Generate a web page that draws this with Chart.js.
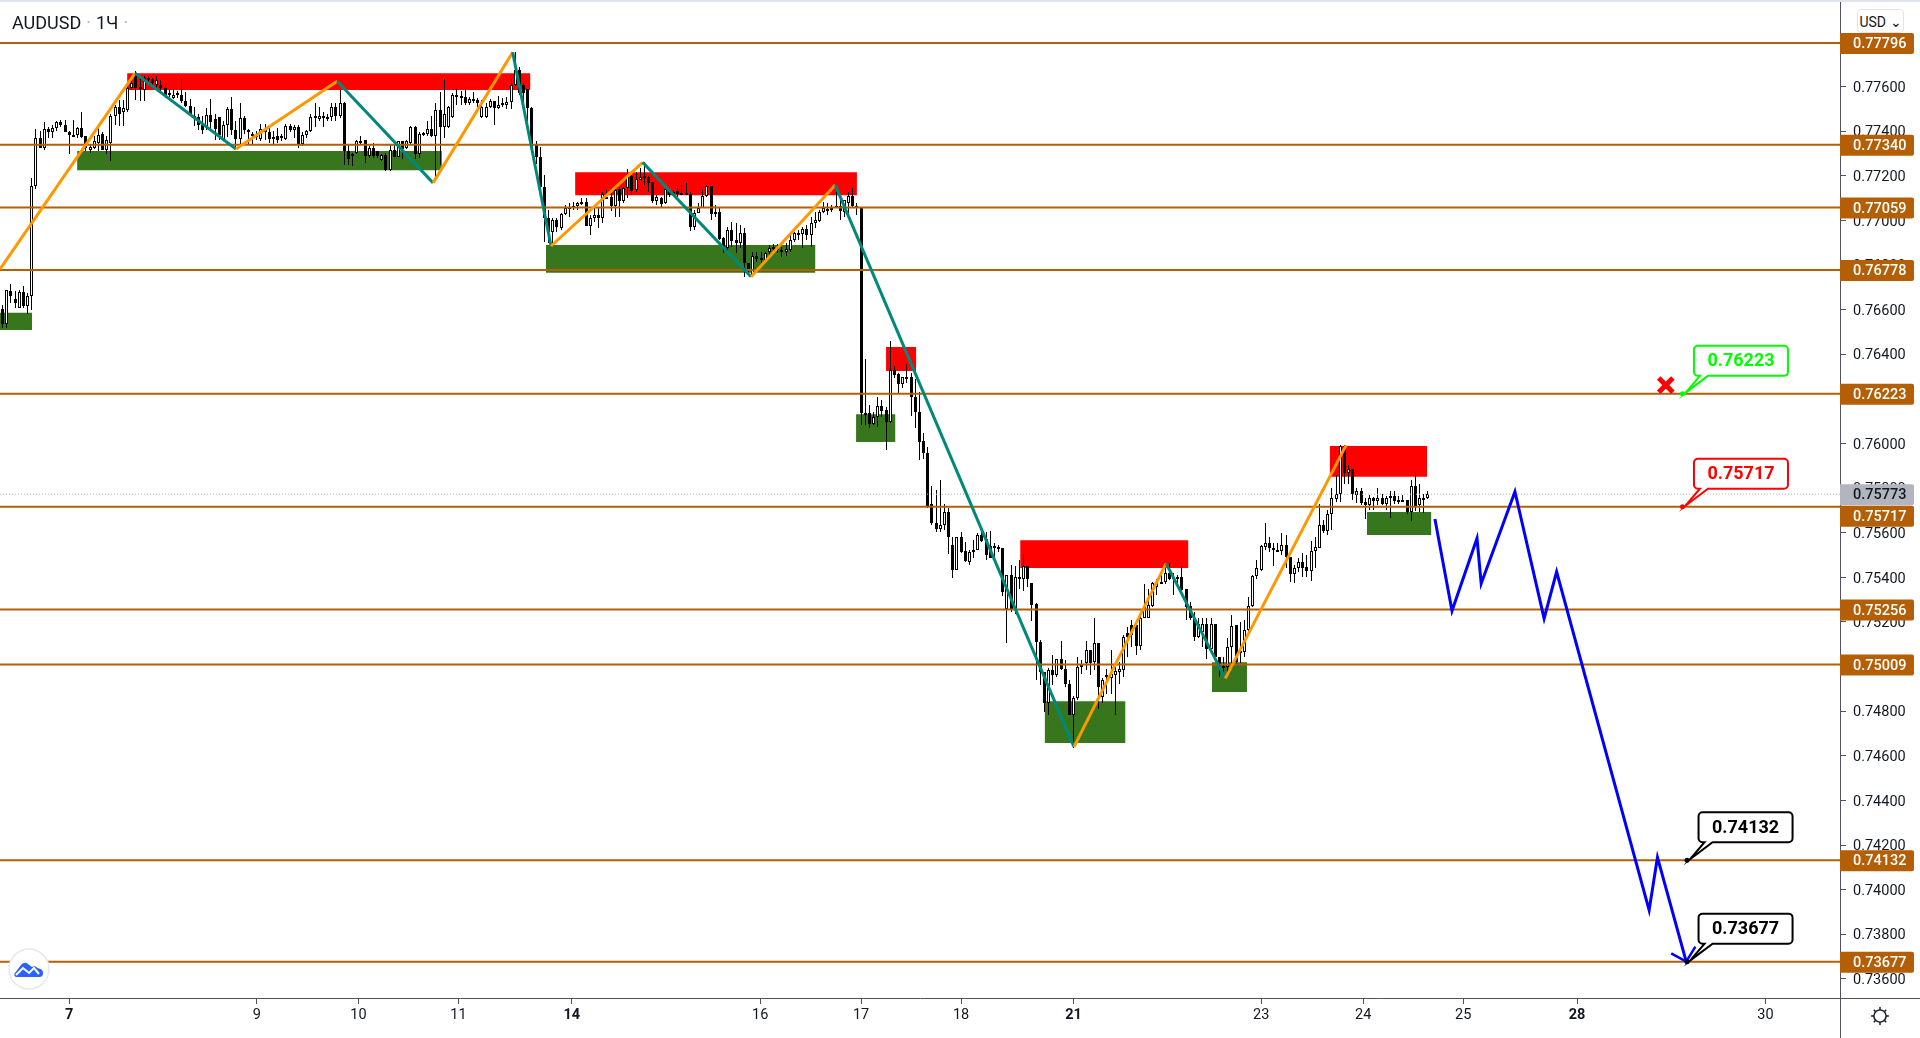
<!DOCTYPE html>
<html>
<head>
<meta charset="utf-8">
<title>AUDUSD 1H</title>
<script src="https://cdn.jsdelivr.net/npm/chart.js@4/dist/chart.umd.min.js"></script>
<style>
  html, body { margin: 0; padding: 0; background: #fff; overflow: hidden; }
  #wrap { position: relative; width: 1920px; height: 1038px; font-family: Roboto, sans-serif; color: #131722; }
  #chart { position: absolute; left: 0; top: 0; }
  #topline { position: absolute; left: 0; top: 0; width: 1920px; height: 2px; background: #e0e3eb; }
  #title { position: absolute; left: 12px; top: 12px; font-size: 18px; line-height: 22px; white-space: nowrap; }
  #title span { color: #b2b5be; margin: 0 5px; }
  #currency { position: absolute; left: 1857px; top: 9px; width: 45px; height: 22px; border: 1px solid #e0e3eb; border-radius: 4px;
    font-size: 14px; line-height: 24px; text-align: center; background: #fff; }
  #axis-v { position: absolute; left: 1840px; top: 998px; width: 1px; height: 40px; background: #50535e; }
  #axis-h { position: absolute; left: 1840px; top: 998px; width: 80px; height: 1px; background: #50535e; }
  #gear { position: absolute; left: 1870px; top: 1006px; }
  #logo { position: absolute; left: 8px; top: 948px; width: 42px; height: 42px; }
</style>
</head>
<body>
<div id="wrap">
  <canvas id="chart" width="1920" height="1038"></canvas>
  <div id="topline"></div>
  <div id="title">AUDUSD<span>·</span>1Ч<span>·</span></div>
  <div id="currency">USD ⌄</div>
  <div id="axis-v"></div>
  <div id="axis-h"></div>
  <svg id="gear" width="20" height="20" viewBox="0 0 18 18" fill="none" stroke="#131722" stroke-width="1.3">
    <circle cx="9" cy="9" r="5.5"/>
    <path d="M9 1v2.500M9 14.500V17M1 9h2.500M14.500 9H17M3.400 3.400l1.700 1.700M12.900 12.900l1.700 1.700M3.400 14.600l1.700-1.700M12.900 5.100l1.700-1.700"/>
  </svg>
  <svg id="logo" viewBox="0 0 42 42">
    <circle cx="21" cy="21" r="20" fill="#fff" stroke="#e8e8e8" stroke-width="1.5"/>
    <path fill="#2962ff" d="M8 29c-1.500-.5-2-2-1.500-3.500L13 17c2-2.500 5-3 7-1l4 3c1.500-1 4-1 5.500 1l3 1c2 1 3 3 2.500 5-.3 2-1.500 3-3.500 3z"/>
    <path fill="none" stroke="#fff" stroke-width="2" d="M8 27l7-7 6 5 5-5 5 6"/>
  </svg>
</div>

<script>
// prices are in points (0.00001), bar positions are bar numbers on the 1 hour timeframe
const opens = [
  76605,76535,76685,76650,76610,76680,76615,76660,77155,77370,
  77325,77410,77395,77415,77440,77430,77395,77385,77385,77415,
  77380,77315,77325,77350,77390,77315,77350,77470,77510,77485,
  77495,77595,77660,77600,77585,77640,77635,77610,77610,77595,
  77570,77550,77570,77565,77535,77515,77470,77465,77430,77420,
  77475,77455,77465,77365,77430,77500,77405,77365,77460,77405,
  77390,77385,77365,77395,77395,77375,77380,77380,77365,77425,
  77405,77420,77345,77385,77400,77470,77455,77470,77465,77465,
  77510,77470,77525,77310,77300,77305,77355,77360,77290,77325,
  77310,77270,77295,77225,77315,77285,77355,77325,77350,77420,
  77300,77393,77390,77410,77380,77495,77420,77420,77465,77565,
  77560,77555,77525,77545,77540,77465,77465,77510,77535,77505,
  77525,77520,77530,77610,77675,77610,77590,77505,77340,77286,
  77152,77010,76950,77002,76968,77028,77055,77060,77066,77081,
  77081,76975,77010,77025,77010,77103,77107,77067,77141,77089,
  77144,77201,77137,77182,77200,77194,77171,77089,77100,77077,
  77137,77129,77134,77122,77122,77119,76972,77035,77058,77110,
  77156,77037,77040,76920,76875,76957,76912,76901,76942,76808,
  76756,76842,76833,76823,76857,76883,76875,76868,76857,76868,
  76913,76945,76940,76960,76935,76987,77000,77040,77052,77047,
  77066,77066,77040,77080,77110,77067,77055,76138,76138,76090,
  76117,76170,76150,76098,76330,76310,76265,76300,76300,76210,
  76143,76012,75960,75728,75645,75615,75634,75694,75545,75435,
  75579,75518,75470,75515,75525,75589,75574,75540,75540,75537,
  75530,75260,75410,75260,75402,75395,75453,75377,75280,75111,
  74977,74837,74984,74962,75036,74991,74924,74782,74861,75000,
  75014,75074,75021,75108,74864,74962,74951,74962,74977,74984,
  75151,75186,75186,75093,75220,75220,75271,75358,75380,75380,
  75418,75402,75400,75400,75346,75271,75216,75133,75156,75190,
  75081,75190,75041,74992,75000,75089,75186,75059,75066,75166,
  75271,75406,75435,75537,75552,75534,75525,75519,75544,75492,
  75417,75440,75470,75447,75429,75518,75534,75633,75609,75686,
  75751,75773,75988,75869,75884,75769,75787,75736,75724,75758,
  75742,75754,75728,75754,75763,75746,75746,75745,75694,75812,
  75724,75754,75754
];
const highs = [
  76620,76690,76715,76685,76690,76705,76675,77190,77410,77400,
  77440,77420,77430,77445,77450,77450,77400,77450,77420,77485,
  77380,77340,77380,77425,77395,77380,77480,77520,77540,77540,
  77615,77645,77670,77650,77650,77650,77640,77650,77630,77610,
  77590,77590,77580,77635,77575,77545,77510,77480,77470,77505,
  77545,77480,77465,77445,77510,77555,77445,77525,77470,77410,
  77395,77400,77435,77435,77420,77400,77415,77390,77435,77435,
  77430,77430,77395,77405,77480,77525,77510,77485,77480,77525,
  77525,77585,77530,77340,77305,77360,77380,77360,77335,77350,
  77310,77300,77305,77345,77345,77355,77355,77360,77425,77425,
  77395,77395,77445,77470,77525,77575,77635,77515,77570,77590,
  77580,77595,77555,77575,77550,77540,77525,77545,77535,77560,
  77550,77555,77635,77755,77690,77615,77590,77510,77355,77331,
  77204,77047,77010,77010,77032,77070,77077,77085,77085,77100,
  77100,77025,77055,77055,77130,77137,77122,77144,77152,77152,
  77229,77204,77219,77234,77261,77200,77171,77114,77104,77140,
  77140,77137,77144,77160,77167,77129,77047,77077,77137,77160,
  77156,77070,77055,76927,76972,76995,76987,76980,76965,76808,
  76860,76860,76860,76860,76890,76895,76895,76880,76898,76935,
  76950,76957,76972,76980,77014,77040,77047,77085,77077,77070,
  77160,77114,77092,77129,77144,77077,77060,76379,76173,76143,
  76207,76195,76165,76460,76349,76315,76300,76357,76315,76288,
  76232,76046,75985,75809,75794,75836,75731,75709,75582,75582,
  75604,75560,75522,75567,75600,75604,75604,75609,75552,75545,
  75530,75410,75455,75450,75477,75504,75453,75377,75283,75118,
  74977,74992,75051,75036,75114,75029,74939,74870,75044,75029,
  75114,75074,75220,75108,74947,74991,75074,75006,75021,75141,
  75178,75208,75208,75231,75370,75350,75380,75395,75418,75463,
  75463,75418,75410,75450,75350,75290,75246,75216,75216,75220,
  75216,75190,75044,75044,75126,75231,75186,75201,75208,75310,
  75410,75477,75545,75646,75582,75552,75552,75601,75589,75492,
  75455,75489,75510,75500,75562,75579,75728,75657,75701,75799,
  75858,75993,75993,75906,75884,75799,75799,75754,75769,75761,
  75799,75773,75764,75787,75787,75764,75769,75745,75836,75866,
  75821,75776,75787
];
const lows = [
  76520,76520,76630,76610,76610,76610,76580,76600,77140,77325,
  77315,77370,77370,77400,77420,77395,77300,77375,77370,77370,
  77310,77305,77320,77310,77315,77300,77265,77430,77425,77425,
  77485,77585,77540,77535,77535,77615,77600,77595,77570,77550,
  77555,77545,77550,77525,77510,77475,77425,77405,77390,77405,
  77400,77360,77360,77355,77375,77385,77325,77345,77390,77340,
  77340,77360,77355,77360,77350,77345,77350,77355,77360,77395,
  77370,77325,77335,77370,77395,77420,77445,77420,77445,77445,
  77445,77460,77250,77250,77245,77300,77340,77260,77280,77280,
  77280,77265,77220,77220,77285,77285,77275,77320,77345,77275,
  77280,77380,77380,77375,77185,77250,77370,77415,77460,77520,
  77520,77520,77520,77525,77510,77460,77460,77505,77430,77500,
  77510,77500,77500,77605,77565,77525,77445,77320,77255,77114,
  76905,76898,76898,76950,76957,77025,77017,77047,77047,77070,
  76975,76935,76995,76965,76987,77100,77044,77017,77017,77077,
  77100,77114,77130,77182,77160,77130,77077,77070,77055,77074,
  77107,77114,77107,77114,77114,76955,76957,77032,77055,77107,
  77002,77017,76913,76853,76868,76883,76853,76875,76748,76756,
  76748,76815,76808,76820,76845,76860,76853,76838,76841,76860,
  76905,76915,76875,76913,76883,76965,76995,77032,77025,77040,
  77055,77002,77017,77025,77055,77025,76083,76083,76068,76083,
  76075,76120,75971,76094,76292,76225,76247,76270,76123,76068,
  75926,75933,75709,75634,75604,75604,75612,75504,75398,75432,
  75510,75470,75455,75489,75522,75560,75480,75485,75485,75515,
  75316,75106,75246,75238,75350,75340,75355,75205,74939,74917,
  74797,74782,74917,74954,74984,74909,74782,74633,74850,74969,
  74984,74962,74984,74812,74835,74879,74879,74782,74924,74954,
  75044,75089,75051,75074,75216,75216,75268,75320,75370,75370,
  75388,75320,75373,75340,75208,75208,75115,75126,75089,75036,
  75066,75021,74954,74954,74972,75000,75006,75014,75044,75156,
  75268,75395,75430,75525,75515,75450,75515,75500,75443,75380,
  75376,75425,75400,75400,75385,75440,75531,75597,75589,75612,
  75739,75739,75821,75818,75746,75734,75724,75661,75701,75704,
  75724,75724,75701,75667,75731,75731,75736,75683,75654,75698,
  75694,75689,75751
];
const closes = [
  76535,76690,76660,76630,76680,76615,76660,77155,77370,77325,
  77410,77395,77415,77440,77430,77395,77385,77380,77415,77375,
  77325,77330,77355,77385,77315,77360,77470,77510,77480,77505,
  77595,77615,77595,77590,77640,77630,77615,77630,77595,77565,
  77565,77565,77565,77535,77515,77480,77465,77430,77405,77475,
  77440,77410,77385,77430,77500,77405,77365,77460,77405,77400,
  77385,77380,77410,77410,77365,77370,77360,77375,77425,77405,
  77420,77345,77385,77400,77465,77460,77470,77465,77460,77510,
  77470,77525,77310,77275,77295,77355,77350,77290,77325,77290,
  77290,77295,77225,77315,77285,77355,77320,77355,77420,77300,
  77390,77390,77410,77380,77495,77420,77480,77510,77565,77555,
  77550,77525,77545,77540,77525,77510,77510,77535,77505,77520,
  77520,77530,77610,77675,77570,77570,77505,77325,77285,77152,
  77010,76950,77002,76970,77028,77055,77060,77065,77077,77077,
  76975,77010,77025,77010,77117,77107,77067,77137,77089,77144,
  77204,77132,77185,77197,77197,77167,77087,77104,77074,77140,
  77114,77125,77119,77118,77119,76972,77035,77058,77110,77156,
  77029,77029,76917,76875,76957,76908,76901,76942,76808,76775,
  76842,76827,76826,76856,76875,76874,76868,76859,76871,76915,
  76942,76940,76962,76936,76987,77002,77040,77055,77047,77055,
  77055,77044,77092,77110,77065,77062,76135,76132,76090,76117,
  76170,76147,76098,76330,76307,76265,76297,76295,76207,76143,
  76008,75959,75719,75645,75615,75637,75694,75582,75435,75579,
  75515,75473,75515,75525,75589,75564,75500,75489,75534,75531,
  75335,75410,75260,75402,75395,75450,75395,75275,75111,74977,
  74837,74984,74962,75036,74991,74921,74782,74861,74999,75005,
  75074,75017,75108,74909,74939,74954,74966,74980,74987,75133,
  75133,75141,75093,75220,75265,75275,75373,75376,75373,75418,
  75395,75395,75395,75343,75268,75216,75133,75193,75190,75081,
  75190,75041,74992,75002,75089,75183,75021,75071,75166,75271,
  75407,75440,75540,75552,75530,75522,75519,75544,75492,75417,
  75440,75470,75440,75429,75518,75537,75633,75607,75686,75754,
  75773,75988,75869,75884,75773,75787,75734,75724,75758,75743,
  75754,75728,75754,75763,75742,75744,75744,75694,75812,75719,
  75754,75750,75772
];

const levels = [77796, 77340, 77059, 76778, 76223, 75717, 75256, 75009, 74132, 73677];
const lastPrice = 75773;
const priceTicks = [73600, 73800, 74000, 74200, 74400, 74600, 74800, 75000, 75200, 75400, 75600, 75800,
  76000, 76200, 76400, 76600, 76800, 77000, 77200, 77400, 77600];
const barMin = -0.62, barMax = 440.9, priceMin = 73514, priceMax = 77989;
const dayTickBars = [16, 61, 85.4, 109.4, 136.6, 181.8, 206, 230, 257, 302, 326.5, 350.5, 377.8, 423];
const dayTickLabels = ["7", "9", "10", "11", "14", "16", "17", "18", "21", "23", "24", "25", "28", "30"];
const boldDays = ["7", "14", "21", "28"];

// zones: first bar, last bar, top price, bottom price
const redZones = [
  [29.9, 126.6, 77661, 77585],
  [137.4, 205, 77217, 77114],
  [212, 219.2, 76433, 76326],
  [244.2, 284.5, 75567, 75442],
  [318.5, 341.8, 75989, 75851]
];
const greenZones = [
  [-0.62, 7.06, 76587, 76509],
  [17.9, 105.4, 77312, 77226],
  [130.4, 195, 76890, 76766],
  [204.8, 214.2, 76132, 76007],
  [250.1, 269.4, 74845, 74657],
  [290.2, 298.6, 75020, 74886],
  [327.4, 342.8, 75693, 75590]
];

const zigzagBars = [-0.62, 31.8, 56, 80.3, 103.3, 122.4, 131.6, 153.6, 179.6, 199.8, 257.1, 279.2, 293.4, 322.4];
const zigzagPrices = [76782, 77661, 77321, 77625, 77169, 77755, 76886, 77261, 76748, 77159, 74640, 75463, 74947, 75993];

const forecastBars = [343.7, 347.8, 353.8, 354.8, 362.9, 369.9, 372.9, 395.1, 397.1, 404];
const forecastPrices = [75662, 75250, 75575, 75373, 75784, 75216, 75425, 73908, 74145, 73677];
const arrowBars = [400.4, 404, 406.2];
const arrowPrices = [73714, 73677, 73744];

const calloutBars = [403.1, 403.1, 404.2, 404.2];
const calloutPrices = [76223, 75717, 74132, 73677];
const calloutColors = ["#00ff00", "#ff0000", "#000000", "#000000"];
const stopBar = [399.1];
const stopPrice = [76262];

const FONT = "Roboto";
const LEVEL_COLOR = "#b45f06";

function fmt(points) {
  return (points / 100000).toFixed(5);
}

function xy(bars, prices) {
  return bars.map(function (b, i) { return { x: b, y: prices[i] }; });
}

function zoneDataset(zone, color) {
  return {
    type: "line",
    data: [
      { x: zone[0], y: zone[2] }, { x: zone[1], y: zone[2] },
      { x: zone[1], y: zone[3] }, { x: zone[0], y: zone[3] }, { x: zone[0], y: zone[2] }
    ],
    borderWidth: 0,
    pointRadius: 0,
    backgroundColor: color,
    fill: "shape",
    order: 10
  };
}

const barNumbers = opens.map(function (o, i) { return i; });

const datasets = [];
greenZones.forEach(function (z) { datasets.push(zoneDataset(z, "#38761d")); });
redZones.forEach(function (z) { datasets.push(zoneDataset(z, "#ff0000")); });

datasets.push({
  type: "bar",
  data: barNumbers.map(function (i) { return { x: i, y: [lows[i], highs[i]] }; }),
  barThickness: 1,
  grouped: false,
  backgroundColor: "#000000",
  borderWidth: 0,
  inflateAmount: 0,
  order: 9
});
datasets.push({
  type: "bar",
  data: barNumbers.map(function (i) { return { x: i, y: [opens[i], closes[i]] }; }),
  barThickness: 3,
  grouped: false,
  backgroundColor: barNumbers.map(function (i) { return closes[i] >= opens[i] ? "#ffffff" : "#000000"; }),
  borderColor: "#000000",
  borderWidth: 1,
  borderSkipped: false,
  inflateAmount: 0,
  order: 8
});

datasets.push({
  type: "line",
  data: [{ x: barMin, y: lastPrice }, { x: barMax, y: lastPrice }],
  borderColor: "#b2b5be",
  borderWidth: 1,
  borderDash: [1, 2],
  pointRadius: 0,
  order: 7
});
levels.forEach(function (level) {
  datasets.push({
    type: "line",
    data: [{ x: barMin, y: level }, { x: barMax, y: level }],
    borderColor: LEVEL_COLOR,
    borderWidth: 2,
    pointRadius: 0,
    order: 6
  });
});

datasets.push({
  type: "line",
  data: xy(zigzagBars, zigzagPrices),
  borderColor: "#ff9800",
  borderWidth: 3,
  pointRadius: 0,
  segment: {
    borderColor: function (ctx) { return ctx.p0DataIndex % 2 ? "#00897b" : "#ff9800"; }
  },
  order: 5
});
datasets.push({
  type: "line",
  data: xy(forecastBars, forecastPrices),
  borderColor: "#0000ff",
  borderWidth: 3,
  pointRadius: 0,
  order: 4
});
datasets.push({
  type: "line",
  data: xy(arrowBars, arrowPrices),
  borderColor: "#0000ff",
  borderWidth: 2.5,
  pointRadius: 0,
  order: 4
});
datasets.push({
  type: "line",
  data: xy(stopBar, stopPrice),
  showLine: false,
  pointStyle: "crossRot",
  pointRadius: 10,
  pointBorderWidth: 5,
  pointBorderColor: "#ff0000",
  order: 3
});

// snap candles to whole pixels, otherwise the 1px wicks blur
const snapCandles = {
  id: "snapCandles",
  afterDatasetsUpdate: function (chart) {
    chart.getSortedVisibleDatasetMetas().forEach(function (meta) {
      if (meta.type !== "bar") return;
      meta.data.forEach(function (el) {
        el.x = Math.floor(el.x) + 0.5;
        const top = Math.round(Math.min(el.y, el.base));
        const bottom = Math.round(Math.max(el.y, el.base));
        el.y = top;
        el.base = Math.max(bottom, top + 2);
        el.height = el.base - el.y;
      });
    });
  }
};

const axisTags = {
  id: "axisTags",
  afterDraw: function (chart) {
    const ctx = chart.ctx;
    const y = chart.scales.y;
    const x = chart.scales.x;

    function tag(points, fill, textColor, shift) {
      const py = y.getPixelForValue(points) + shift;
      ctx.fillStyle = fill;
      ctx.beginPath();
      ctx.roundRect(1840, py - 10, 74, 21, [0, 2, 2, 0]);
      ctx.fill();
      ctx.fillStyle = textColor;
      ctx.font = "500 14.5px " + FONT;
      ctx.textAlign = "left";
      ctx.textBaseline = "middle";
      ctx.fillText(fmt(points), 1853, py + 1.5);
    }
    tag(lastPrice, "#b2b5be", "#131722", 0);
    // the 75717 tag is pushed down so it does not sit on the last price tag
    levels.forEach(function (level) { tag(level, LEVEL_COLOR, "#ffffff", level === 75717 ? 9 : 0); });

    calloutPrices.forEach(function (price, i) {
      const ax = x.getPixelForValue(calloutBars[i]);
      const ay = y.getPixelForValue(price);
      const left = ax + 11.5, bottom = ay - 18, w = 94, h = 30, r = 4;
      const color = calloutColors[i];

      ctx.beginPath();
      ctx.moveTo(left + r, bottom - h);
      ctx.arcTo(left + w, bottom - h, left + w, bottom, r);
      ctx.arcTo(left + w, bottom, left, bottom, r);
      ctx.lineTo(left + 14, bottom);
      ctx.lineTo(ax + 3, ay - 1);
      ctx.lineTo(left + 6, bottom);
      ctx.arcTo(left, bottom, left, bottom - h, r);
      ctx.arcTo(left, bottom - h, left + w, bottom - h, r);
      ctx.closePath();
      ctx.fillStyle = "#ffffff";
      ctx.fill();
      ctx.strokeStyle = color;
      ctx.lineWidth = 2;
      ctx.stroke();

      ctx.beginPath();
      ctx.arc(ax, ay, 2.5, 0, Math.PI * 2);
      ctx.fillStyle = color;
      ctx.fill();

      ctx.fillStyle = color;
      ctx.font = "bold 18px " + FONT;
      ctx.textAlign = "center";
      ctx.textBaseline = "middle";
      ctx.fillText(fmt(price), left + w / 2, bottom - h / 2 + 1);
    });
  }
};

const config = {
  type: "bar",
  data: { datasets: datasets },
  options: {
    responsive: false,
    animation: false,
    events: [],
    layout: { padding: 0, autoPadding: false },
    elements: { line: { tension: 0 } },
    plugins: { legend: { display: false }, tooltip: { enabled: false } },
    scales: {
      x: {
        type: "linear",
        min: barMin,
        max: barMax,
        offset: false,
        afterFit: function (scale) {
          scale.height = 40;
          scale.paddingLeft = scale.paddingRight = 0;
        },
        afterBuildTicks: function (scale) {
          scale.ticks = dayTickBars.map(function (v) { return { value: v }; });
        },
        grid: { offset: false, drawOnChartArea: false, drawTicks: true, tickLength: 6, tickColor: "#50535e" },
        border: { display: true, color: "#50535e" },
        ticks: {
          autoSkip: false,
          maxRotation: 0,
          padding: 3,
          color: "#131722",
          font: function (ctx) {
            const label = dayTickLabels[dayTickBars.indexOf(ctx.tick && ctx.tick.value)];
            return { family: FONT, size: 14.5, weight: boldDays.indexOf(label) >= 0 ? "bold" : "normal" };
          },
          callback: function (value) { return dayTickLabels[dayTickBars.indexOf(value)]; }
        }
      },
      y: {
        type: "linear",
        position: "right",
        min: priceMin,
        max: priceMax,
        afterFit: function (scale) {
          scale.width = 80;
          scale.paddingTop = scale.paddingBottom = 0;
        },
        afterBuildTicks: function (scale) {
          scale.ticks = priceTicks.map(function (v) { return { value: v }; });
        },
        grid: { drawOnChartArea: false, drawTicks: true, tickLength: 6, tickColor: "#50535e" },
        border: { display: true, color: "#50535e" },
        ticks: {
          padding: 7,
          labelOffset: 1.5,
          color: "#131722",
          font: { family: FONT, size: 14.5 },
          callback: function (value) { return fmt(value); }
        }
      }
    }
  },
  plugins: [snapCandles, axisTags]
};

Chart.defaults.font.family = FONT;
window.myChart = new Chart(document.getElementById("chart").getContext("2d"), config);
</script>
</body>
</html>
